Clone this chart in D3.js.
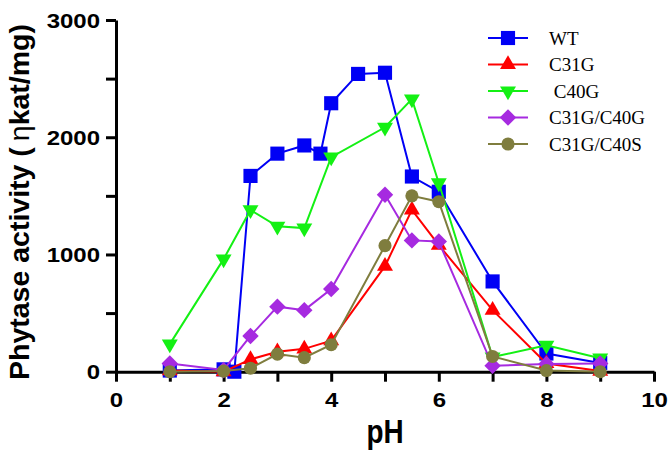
<!DOCTYPE html>
<html>
<head>
<meta charset="utf-8">
<script src="https://cdn.jsdelivr.net/npm/d3@7"></script>
<style>
  body { margin: 0; background: #fff; }
</style>
</head>
<body>
<script>
const width = 669;
const height = 457;

// values
const wtPH = [1, 2, 2.2, 2.5, 3, 3.5, 3.8, 4, 4.5, 5, 5.5, 6, 7, 8, 9];
const wtAct = [10, 20, 0, 1670, 1860, 1930, 1860, 2290, 2540, 2550, 1665, 1535, 770, 155, 75];

const phLevels = [1, 2, 2.5, 3, 3.5, 4, 5, 5.5, 6, 7, 8, 9];
const c31gAct = [10, 0, 105, 170, 195, 265, 900, 1380, 1080, 525, 70, 5];
const c40gAct = [235, 960, 1380, 1240, 1225, 1830, 2085, 2325, 1610, 125, 225, 115];
const c31gC40gAct = [70, 15, 305, 555, 525, 705, 1510, 1120, 1110, 50, 65, 70];
const c31gC40sAct = [0, 5, 30, 150, 120, 230, 1075, 1500, 1450, 130, 10, 0];

const seriesNames = ["WT", "C31G", " C40G", "C31G/C40G", "C31G/C40S"];
const xTicks = [0, 1, 2, 3, 4, 5, 6, 7, 8, 9, 10];
const yTicks = [0, 500, 1000, 1500, 2000, 2500, 3000];

const series = [
  { name: seriesNames[0], x: wtPH, y: wtAct, color: "#0000f5", shape: "square" },
  { name: seriesNames[1], x: phLevels, y: c31gAct, color: "#ff0000", shape: "up" },
  { name: seriesNames[2], x: phLevels, y: c40gAct, color: "#14f014", shape: "down" },
  { name: seriesNames[3], x: phLevels, y: c31gC40gAct, color: "#a62ae0", shape: "diamond" },
  { name: seriesNames[4], x: phLevels, y: c31gC40sAct, color: "#7f7d3e", shape: "circle" }
];

const svg = d3.select("body").append("svg")
  .attr("width", width)
  .attr("height", height);

const x = d3.scaleLinear().domain([0, 10]).range([116, 654]);
const y = d3.scaleLinear().domain([0, 3000]).range([371.7, 20]);

function markerPath(shape) {
  if (shape == "square") return d3.symbol(d3.symbolSquare, 200)();
  if (shape == "up" || shape == "down") return d3.symbol(d3.symbolTriangle, 110)();
  if (shape == "diamond") return d3.symbol(d3.symbolSquare, 135)();
  return d3.symbol(d3.symbolCircle, 135)();
}
function markerRotate(shape) {
  if (shape == "down") return 180;
  if (shape == "diamond") return 45;
  return 0;
}

// axes
const xAxis = svg.append("g")
  .attr("transform", `translate(0,${y(0)})`)
  .call(d3.axisBottom(x).tickValues(xTicks).tickSize(10).tickSizeOuter(0)
    .tickFormat(d => d % 2 == 0 ? d : ""));

const yAxis = svg.append("g")
  .attr("transform", `translate(${x(0)},0)`)
  .call(d3.axisLeft(y).tickValues(yTicks).tickSize(10).tickSizeOuter(0)
    .tickFormat(d => d % 1000 == 0 ? d : ""));

[xAxis, yAxis].forEach(ax => {
  ax.select(".domain").attr("stroke", "#000").attr("stroke-width", 3);
  ax.selectAll(".tick line").attr("stroke", "#000").attr("stroke-width", 3);
  ax.selectAll(".tick text")
    .attr("fill", "#000")
    .attr("font-family", "'Liberation Sans', Arial, sans-serif")
    .attr("font-weight", "bold")
    .attr("font-size", "20px");
});

xAxis.selectAll(".tick text")
  .attr("y", 35)
  .attr("dy", 0)
  .attr("transform", "scale(1.2,1)");

yAxis.selectAll(".tick text")
  .attr("x", -16 / 1.2)
  .attr("dy", "0.36em")
  .attr("transform", "scale(1.2,1)");

// axis titles
svg.append("text")
  .attr("transform", "translate(385,443) scale(0.82,1)")
  .attr("text-anchor", "middle")
  .attr("font-family", "'Liberation Sans', Arial, sans-serif")
  .attr("font-weight", "bold")
  .attr("font-size", "34px")
  .text("pH");

const yTitle = svg.append("text")
  .attr("transform", "translate(29,202) rotate(-90)")
  .attr("text-anchor", "middle")
  .attr("font-family", "'Liberation Sans', Arial, sans-serif")
  .attr("font-weight", "bold")
  .attr("font-size", "28.5px");
yTitle.append("tspan").text("Phytase activity (");
yTitle.append("tspan").attr("font-weight", "normal").attr("dx", 6).text("η");
yTitle.append("tspan").text("kat/mg)");

// series
const line = d3.line().x(d => x(d[0])).y(d => y(d[1]));

series.forEach(s => {
  const pts = s.x.map((v, i) => [v, s.y[i]]);
  const g = svg.append("g");
  g.append("path")
    .attr("d", line(pts))
    .attr("fill", "none")
    .attr("stroke", s.color)
    .attr("stroke-width", 2);
  g.selectAll("path.mark")
    .data(pts)
    .join("path")
    .attr("class", "mark")
    .attr("d", markerPath(s.shape))
    .attr("transform", d => `translate(${x(d[0])},${y(d[1])}) rotate(${markerRotate(s.shape)})`)
    .attr("fill", s.color);
});

// legend
series.forEach((s, i) => {
  const ly = 38 + i * 26.5;
  const g = svg.append("g").attr("transform", `translate(488,${ly})`);
  g.append("line")
    .attr("x1", 0).attr("x2", 40)
    .attr("stroke", s.color)
    .attr("stroke-width", 2);
  g.append("path")
    .attr("d", markerPath(s.shape))
    .attr("transform", `translate(20,0) rotate(${markerRotate(s.shape)})`)
    .attr("fill", s.color);
  g.append("text")
    .attr("x", 61)
    .attr("y", 6.5)
    .attr("font-family", "'Liberation Serif', 'Times New Roman', serif")
    .attr("font-size", "19px")
    .attr("xml:space", "preserve")
    .style("white-space", "pre")
    .text(s.name);
});
</script>
</body>
</html>
